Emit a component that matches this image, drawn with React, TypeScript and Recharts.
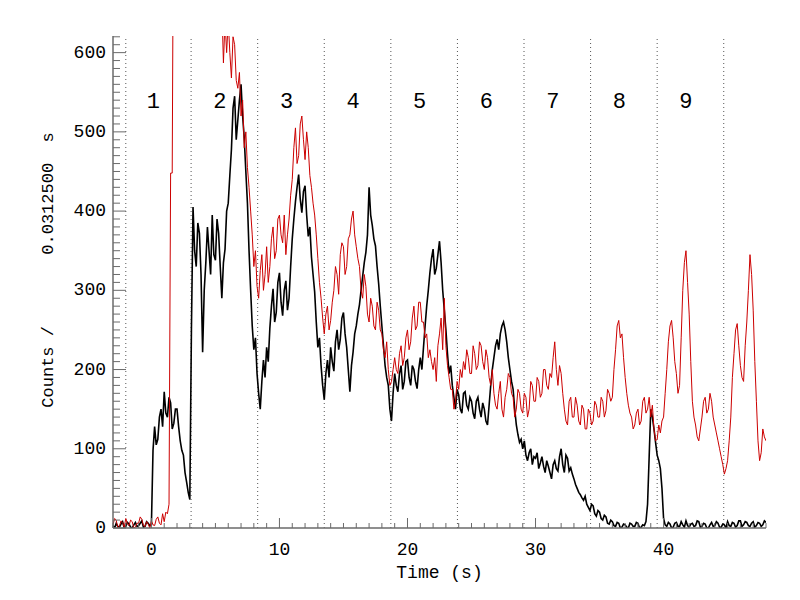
import React from 'react';
import { LineChart, Line, XAxis, YAxis, ReferenceLine, ReferenceDot } from 'recharts';

// ---- data (0.125 s grid starting at -3 s) ----
const T_START = -3;
const T_STEP = 0.125;

// black light curve, 8 samples per second
const blackCounts = [
  3, 0, 6, 2, 1, 5, 8, 0, // -3
  2, 7, 5, 1, 0, 4, 7, 2, // -2
  3, 6, 9, 1, 2, 8, 6, 3, // -1
  4, 98, 128, 105, 112, 140, 150, 128, // 0
  172, 145, 140, 165, 158, 125, 132, 150, // 1
  150, 128, 110, 98, 92, 70, 58, 45, // 2
  36, 250, 405, 350, 330, 385, 372, 320, // 3
  222, 300, 335, 380, 350, 320, 395, 345, // 4
  338, 390, 372, 330, 290, 335, 352, 400, // 5
  410, 445, 478, 530, 545, 490, 515, 540, // 6
  560, 520, 492, 450, 410, 350, 300, 255, // 7
  225, 240, 195, 170, 150, 185, 212, 190, // 8
  228, 210, 252, 280, 302, 260, 272, 310, // 9
  322, 285, 268, 300, 312, 275, 290, 330, // 10
  365, 390, 412, 430, 446, 415, 398, 425, // 11
  432, 395, 368, 380, 342, 320, 298, 260, // 12
  228, 240, 205, 180, 162, 195, 212, 190, // 13
  228, 210, 198, 235, 250, 225, 238, 265, // 14
  272, 245, 228, 200, 172, 205, 222, 245, // 15
  255, 270, 282, 300, 318, 335, 348, 370, // 16
  430, 395, 382, 365, 356, 330, 308, 280, // 17
  255, 230, 205, 190, 180, 150, 135, 170, // 18
  195, 180, 172, 195, 205, 175, 185, 210, // 19
  212, 190, 180, 205, 200, 185, 176, 200, // 20
  215, 200, 228, 255, 280, 300, 322, 340, // 21
  352, 320, 328, 345, 362, 335, 300, 275, // 22
  250, 220, 195, 205, 180, 165, 150, 175, // 23
  168, 150, 145, 170, 172, 155, 150, 165, // 24
  160, 145, 138, 160, 165, 150, 140, 158, // 25
  150, 135, 130, 155, 180, 200, 215, 230, // 26
  238, 225, 245, 255, 260, 250, 235, 215, // 27
  200, 185, 175, 150, 130, 118, 108, 112, // 28
  100, 110, 92, 85, 95, 100, 80, 90, // 29
  88, 95, 75, 82, 90, 78, 70, 85, // 30
  78, 70, 62, 80, 85, 75, 72, 90, // 31
  100, 80, 70, 92, 88, 72, 76, 68, // 32
  62, 55, 50, 45, 42, 38, 35, 40, // 33
  30, 26, 22, 30, 28, 18, 15, 22, // 34
  20, 12, 10, 16, 14, 6, 5, 10, // 35
  8, 3, 2, 7, 6, 0, 1, 5, // 36
  4, 1, 0, 6, 5, 2, 2, 7, // 37
  6, 0, 1, 4, 3, 8, 30, 90, // 38
  150, 140, 125, 108, 92, 85, 75, 50, // 39
  12, 4, 2, 7, 5, 0, 1, 6, // 40
  7, 2, 2, 8, 4, 1, 9, 3, // 41
  1, 5, 6, 2, 3, 9, 8, 1, // 42
  2, 6, 5, 0, 0, 4, 7, 2, // 43
  3, 8, 6, 1, 1, 5, 4, 0, // 44
  8, 3, 2, 7, 6, 1, 3, 9, // 45
  9, 2, 4, 8, 7, 3, 2, 6, // 46
  8, 1, 3, 7, 6, 2, 4, 9, // 47
  7, // 48
];

// red light curve, 8 samples per second (values above the frame are clipped)
const redCounts = [
  4, 12, 10, 0, 2, 9, 7, 1, // -3
  12, 5, 3, 10, 8, 0, 1, 6, // -2
  6, 14, 11, 3, 2, 8, 5, 0, // -1
  9, 4, 3, 11, 14, 6, 4, 18, // 0
  8, 20, 18, 30, 448, 448, 900, 940, // 1
  950, 930, 920, 960, 980, 940, 960, 990, // 2
  1000, 970, 940, 920, 900, 890, 880, 860, // 3
  850, 830, 820, 800, 800, 780, 760, 740, // 4
  720, 700, 690, 680, 660, 587, 640, 600, // 5
  640, 600, 568, 620, 610, 565, 555, 575, // 6
  520, 540, 480, 500, 455, 430, 400, 370, // 7
  330, 350, 305, 290, 325, 345, 300, 320, // 8
  355, 310, 330, 365, 380, 340, 350, 390, // 9
  395, 370, 360, 395, 345, 370, 390, 420, // 10
  440, 480, 505, 460, 470, 510, 520, 490, // 11
  465, 500, 480, 445, 430, 410, 395, 370, // 12
  340, 310, 290, 265, 245, 270, 280, 250, // 13
  262, 285, 300, 330, 320, 295, 345, 360, // 14
  355, 320, 330, 365, 370, 390, 400, 370, // 15
  355, 340, 330, 300, 290, 320, 305, 270, // 16
  260, 290, 280, 255, 250, 285, 275, 250, // 17
  245, 225, 215, 235, 200, 180, 185, 200, // 18
  215, 200, 195, 220, 230, 205, 215, 240, // 19
  250, 225, 235, 265, 280, 250, 255, 285, // 20
  285, 260, 260, 240, 245, 215, 225, 210, // 21
  200, 215, 185, 230, 245, 265, 225, 290, // 22
  230, 205, 190, 175, 175, 150, 160, 185, // 23
  175, 200, 190, 210, 200, 225, 215, 195, // 24
  195, 230, 220, 200, 205, 235, 230, 210, // 25
  200, 225, 215, 190, 180, 200, 170, 155, // 26
  150, 170, 185, 150, 140, 165, 175, 195, // 27
  190, 170, 165, 140, 150, 175, 170, 150, // 28
  145, 170, 165, 140, 150, 185, 180, 160, // 29
  160, 190, 185, 165, 170, 200, 200, 180, // 30
  175, 195, 190, 215, 235, 200, 180, 205, // 31
  195, 170, 150, 135, 130, 160, 165, 140, // 32
  140, 165, 155, 135, 130, 155, 150, 125, // 33
  125, 150, 145, 130, 135, 160, 155, 140, // 34
  140, 165, 160, 140, 148, 175, 170, 160, // 35
  165, 200, 225, 255, 262, 240, 245, 215, // 36
  190, 170, 155, 145, 140, 125, 130, 145, // 37
  150, 130, 135, 160, 165, 145, 150, 165, // 38
  140, 155, 125, 110, 112, 130, 120, 135, // 39
  140, 170, 200, 235, 255, 262, 240, 210, // 40
  195, 170, 180, 240, 300, 335, 350, 310, // 41
  270, 210, 160, 140, 130, 115, 110, 125, // 42
  140, 160, 165, 145, 150, 170, 160, 140, // 43
  130, 120, 110, 100, 90, 80, 68, 75, // 44
  85, 110, 140, 190, 220, 250, 258, 230, // 45
  205, 190, 185, 230, 260, 300, 345, 320, // 46
  275, 210, 160, 110, 85, 95, 125, 115, // 47
  110, // 48
];

const segmentBoundaries = [-2.0, 3.1, 8.3, 13.5, 18.7, 23.9, 29.1, 34.3, 39.5, 44.7];
const segmentLabels = ['1', '2', '3', '4', '5', '6', '7', '8', '9'];
const segmentLabelX = [0.15, 5.35, 10.55, 15.75, 20.95, 26.15, 31.35, 36.55, 41.75];
const segmentLabelY = 537;

const X_DOMAIN: [number, number] = [-3, 48];
const Y_DOMAIN: [number, number] = [0, 621];
const xTicks = Array.from({ length: 52 }, (_, i) => i - 3);
const yTicks = Array.from({ length: 63 }, (_, i) => i * 10);

const data = blackCounts.map((b, i) => ({
  t: T_START + i * T_STEP,
  black: b,
  red: redCounts[i],
}));

// ---- style ----
const FONT = '"Liberation Mono", "DejaVu Sans Mono", monospace';
const AXIS_COLOR = '#6a6a6a';
const RED = '#cc0000';

const BottomTick = (p: any) => {
  const { x, y, payload } = p;
  const v = payload.value;
  const major = v % 10 === 0;
  return (
    <g>
      <line x1={x} x2={x} y1={y} y2={y - (major ? 10 : 5)} stroke={AXIS_COLOR} strokeWidth={1} />
      {major && (
        <text x={x} y={y + 22} textAnchor="middle" dominantBaseline="central" fontFamily={FONT} fontSize={18} fill="#000">
          {v}
        </text>
      )}
    </g>
  );
};

const TopTick = (p: any) => {
  const { x, y, payload } = p;
  const major = payload.value % 10 === 0;
  return <line x1={x} x2={x} y1={y} y2={y + (major ? 10 : 5)} stroke={AXIS_COLOR} strokeWidth={1} />;
};

const LeftTick = (p: any) => {
  const { x, y, payload } = p;
  const v = payload.value;
  const major = v % 100 === 0;
  return (
    <g>
      <line x1={x} x2={x + (major ? 13 : 7)} y1={y} y2={y} stroke={AXIS_COLOR} strokeWidth={1} />
      {major && (
        <text x={x - 7} y={y} textAnchor="end" dominantBaseline="central" fontFamily={FONT} fontSize={18} fill="#000">
          {v}
        </text>
      )}
    </g>
  );
};

const RightTick = (p: any) => {
  const { x, y, payload } = p;
  const major = payload.value % 100 === 0;
  return <line x1={x} x2={x - (major ? 13 : 7)} y1={y} y2={y} stroke={AXIS_COLOR} strokeWidth={1} />;
};

const XTitle = (p: any) => {
  const vb = p.viewBox || {};
  return (
    <text x={vb.x + vb.width / 2} y={vb.y + 45} textAnchor="middle" dominantBaseline="central" fontFamily={FONT} fontSize={18} fill="#000">
      Time (s)
    </text>
  );
};

const NB = '\u00a0';
const Y_TITLE = 'Counts /' + NB.repeat(7) + '0.0312500' + NB.repeat(2) + 's';

const YTitle = (p: any) => {
  const vb = p.viewBox || {};
  const cx = vb.x + 48;
  const cy = vb.y + vb.height / 2 - 12;
  return (
    <text
      x={cx}
      y={cy}
      transform={`rotate(-90, ${cx}, ${cy})`}
      textAnchor="middle"
      dominantBaseline="central"
      fontFamily={FONT}
      fontSize={17}
      fill="#000"
    >
      {Y_TITLE}
    </text>
  );
};

const SegmentLabel = (label: string) => (p: any) => (
  <text x={p.cx} y={p.cy} textAnchor="middle" dominantBaseline="central" fontFamily={FONT} fontSize={22} fill="#000">
    {label}
  </text>
);

export default function App() {
  return (
    <div style={{ position: 'absolute', left: 0, top: 0, width: 800, height: 600, background: '#fff' }}>
      <LineChart width={800} height={600} data={data} margin={{ top: 36, right: 34, bottom: 0, left: 0 }}>
        <XAxis
          xAxisId="bottom"
          dataKey="t"
          type="number"
          orientation="bottom"
          domain={X_DOMAIN}
          allowDataOverflow
          ticks={xTicks}
          interval={0}
          tickSize={0}
          tickMargin={0}
          height={72}
          axisLine={{ stroke: AXIS_COLOR, strokeWidth: 1.5 }}
          tickLine={false}
          tick={<BottomTick />}
          label={<XTitle />}
        />
        <XAxis
          xAxisId="top"
          dataKey="t"
          type="number"
          orientation="top"
          domain={X_DOMAIN}
          allowDataOverflow
          ticks={xTicks}
          interval={0}
          tickSize={0}
          tickMargin={0}
          height={0}
          axisLine={{ stroke: AXIS_COLOR, strokeWidth: 1.5 }}
          tickLine={false}
          tick={<TopTick />}
        />
        <YAxis
          yAxisId="left"
          orientation="left"
          type="number"
          domain={Y_DOMAIN}
          allowDataOverflow
          ticks={yTicks}
          interval={0}
          tickSize={0}
          tickMargin={0}
          width={113}
          axisLine={{ stroke: AXIS_COLOR, strokeWidth: 1.5 }}
          tickLine={false}
          tick={<LeftTick />}
          label={<YTitle />}
        />
        <YAxis
          yAxisId="right"
          orientation="right"
          type="number"
          domain={Y_DOMAIN}
          allowDataOverflow
          ticks={yTicks}
          interval={0}
          tickSize={0}
          tickMargin={0}
          width={0}
          axisLine={{ stroke: AXIS_COLOR, strokeWidth: 1.5 }}
          tickLine={false}
          tick={<RightTick />}
        />
        {segmentBoundaries.map((b) => (
          <ReferenceLine
            key={b}
            x={b}
            xAxisId="bottom"
            yAxisId="left"
            stroke="#555"
            strokeWidth={1}
            strokeDasharray="1 3"
          />
        ))}
        {segmentLabels.map((s, i) => (
          <ReferenceDot
            key={s}
            x={segmentLabelX[i]}
            y={segmentLabelY}
            xAxisId="bottom"
            yAxisId="left"
            r={0}
            shape={SegmentLabel(s)}
          />
        ))}
        <Line
          xAxisId="bottom"
          yAxisId="left"
          dataKey="black"
          type="linear"
          stroke="#000"
          strokeWidth={1.6}
          dot={false}
          activeDot={false}
          isAnimationActive={false}
        />
        <Line
          xAxisId="bottom"
          yAxisId="left"
          dataKey="red"
          type="linear"
          stroke={RED}
          strokeWidth={1}
          dot={false}
          activeDot={false}
          isAnimationActive={false}
        />
      </LineChart>
    </div>
  );
}
